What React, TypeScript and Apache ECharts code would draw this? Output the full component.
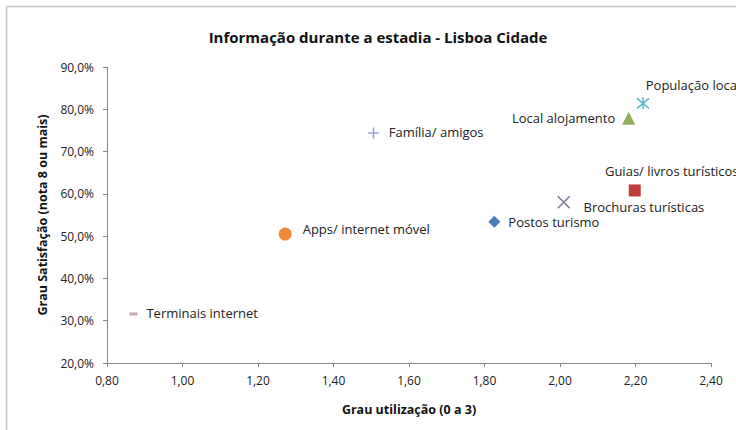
import React, { useEffect, useRef } from "react";
import * as echarts from "echarts";

const names = [
  "Terminais internet",
  "Apps/ internet móvel",
  "Família/ amigos",
  "Postos turismo",
  "Brochuras turísticas",
  "Guias/ livros turísticos",
  "Local alojamento",
  "População local",
];
const usage = [0.87, 1.272, 1.506, 1.826, 2.01, 2.198, 2.182, 2.22];
const satisfaction = [31.6, 50.5, 74.4, 53.4, 58.0, 60.8, 77.9, 81.4];

const xTicks = { min: 0.8, max: 2.4, interval: 0.2 };
const yTicks = { min: 20, max: 90, interval: 10 };

const FONT = "'Open Sans', 'DejaVu Sans', sans-serif";

const styles: any[] = [
  { symbol: "rect", size: [8, 3], color: "#C6A9B0", fill: true, pos: "right", offset: [4, -1] },
  { symbol: "circle", size: 13, color: "#F08A3A", fill: true, pos: "right", offset: [6, -5] },
  { symbol: "path://M5 0 L5 10 M0 5 L10 5", size: 11, color: "#9AA6C8", fill: false, pos: "right", offset: [4, -1] },
  { symbol: "diamond", size: 12, color: "#4A7CB8", fill: true, pos: "right", offset: [3, 0] },
  { symbol: "path://M0 0 L10 10 M10 0 L0 10", size: 12, color: "#8078A0", fill: false, pos: "right", offset: [8, 5] },
  { symbol: "rect", size: 12, color: "#BE3E3C", fill: true, pos: "top", offset: [37, -2] },
  { symbol: "triangle", size: 13, color: "#93AE5A", fill: true, pos: "left", offset: [-2, 0] },
  { symbol: "path://M0 0 L10 10 M10 0 L0 10 M5 -1 L5 11", size: 12, color: "#5BB6CC", fill: false, pos: "top", offset: [50, 0] },
];

export default function App() {
  const ref = useRef<HTMLDivElement>(null);
  useEffect(() => {
    if (!ref.current) return;
    const chart = echarts.init(ref.current, undefined, { renderer: "svg" });
    const series = names.map((n, i) => {
      const s = styles[i];
      return {
        type: "scatter",
        name: n,
        symbol: s.symbol,
        symbolSize: s.size,
        data: [[usage[i], satisfaction[i]]],
        itemStyle: s.fill
          ? { color: s.color, opacity: 1 }
          : { color: "rgba(0,0,0,0)", borderColor: s.color, borderWidth: 1.5, opacity: 1 },
        label: {
          show: true,
          formatter: n,
          position: s.pos,
          offset: s.offset,
          color: "#222",
          fontSize: 13,
          fontFamily: FONT,
        },
        emphasis: { disabled: true },
      };
    });
    chart.setOption({
      animation: false,
      backgroundColor: "#fff",
      title: {
        text: "Informação durante a estadia - Lisboa Cidade",
        left: 373,
        top: 24,
        textAlign: "center",
        textStyle: { fontFamily: FONT, fontSize: 15, fontWeight: "bold", color: "#111" },
      },
      grid: { left: 107, right: 25, top: 67, bottom: 67 },
      xAxis: {
        type: "value",
        min: xTicks.min,
        max: xTicks.max,
        interval: xTicks.interval,
        name: "Grau utilização (0 a 3)",
        nameLocation: "middle",
        nameGap: 40,
        nameTextStyle: { fontFamily: FONT, fontSize: 12.5, fontWeight: "bold", color: "#111" },
        axisLine: { show: true, lineStyle: { color: "#868686", width: 1 } },
        axisTick: { show: true, length: 4, lineStyle: { color: "#868686" } },
        splitLine: { show: false },
        axisLabel: {
          fontFamily: FONT,
          fontSize: 12,
          color: "#222",
          margin: 11,
          formatter: (v: number) => v.toFixed(2).replace(".", ","),
        },
      },
      yAxis: {
        type: "value",
        min: yTicks.min,
        max: yTicks.max,
        interval: yTicks.interval,
        name: "Grau Satisfação (nota 8 ou mais)",
        nameLocation: "middle",
        nameGap: 58,
        nameTextStyle: { fontFamily: FONT, fontSize: 12.5, fontWeight: "bold", color: "#111" },
        axisLine: { show: true, lineStyle: { color: "#868686", width: 1 } },
        axisTick: { show: true, length: 4, lineStyle: { color: "#868686" } },
        splitLine: { show: false },
        axisLabel: {
          fontFamily: FONT,
          fontSize: 12,
          color: "#222",
          margin: 13,
          formatter: (v: number) => v.toFixed(1).replace(".", ",") + "%",
        },
      },
      graphic: [
        {
          type: "rect",
          shape: { x: 6.5, y: 6.5, width: 900, height: 600 },
          style: { fill: "none", stroke: "#C4C4C4", lineWidth: 1.5 },
          silent: true,
          z: 100,
        },
      ],
      series,
    });
    return () => chart.dispose();
  }, []);
  return (
    <div
      ref={ref}
      style={{ position: "fixed", left: 0, top: 0, width: 736, height: 430, background: "#fff" }}
    />
  );
}
